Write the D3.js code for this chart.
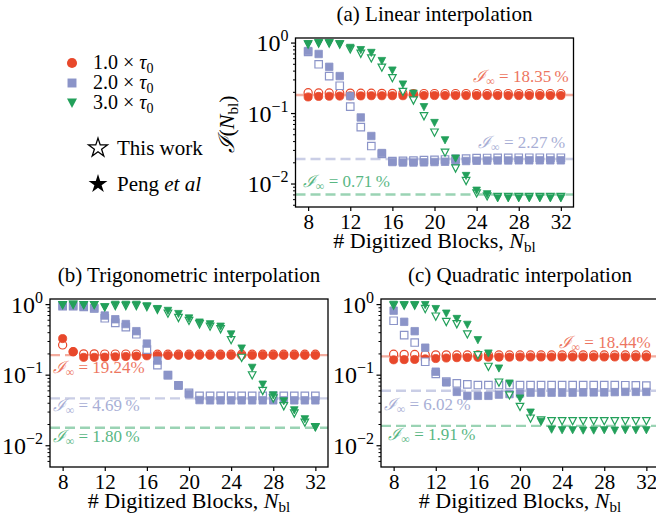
<!DOCTYPE html>
<html>
<head>
<meta charset="utf-8">
<script src="https://cdn.jsdelivr.net/npm/d3@7"></script>
<style>
body { margin: 0; background: #fff; }
</style>
</head>
<body>
<div id="chart"></div>
<script>
// block counts on the x axis
var nBlocks = d3.range(8, 33);
var xTicks = [8, 12, 16, 20, 24, 28, 32];
var yTicks = [1, 0.1, 0.01];
var tauLabels = ["1.0", "2.0", "3.0"];

// (a) linear interpolation: open = this work, filled = Peng et al
var linTau1This = [0.197, 0.196, 0.196, 0.195, 0.195, 0.194, 0.194, 0.193, 0.193, 0.193, 0.192, 0.192, 0.192, 0.192, 0.192, 0.192, 0.192, 0.192, 0.192, 0.192, 0.192, 0.192, 0.192, 0.192, 0.192];
var linTau1Peng = [0.172, 0.175, 0.176, 0.177, 0.178, 0.178, 0.179, 0.179, 0.179, 0.179, 0.18, 0.18, 0.18, 0.18, 0.18, 0.18, 0.18, 0.18, 0.18, 0.18, 0.18, 0.18, 0.18, 0.18, 0.18];
var linTau2This = [0.75, 0.50, 0.34, 0.248, 0.125, 0.064, 0.0346, 0.0267, 0.0212, 0.0213, 0.0215, 0.0218, 0.022, 0.0223, 0.0227, 0.023, 0.0233, 0.0234, 0.0235, 0.0235, 0.0236, 0.0236, 0.0236, 0.0236, 0.0236];
var linTau2Peng = [0.77, 0.70, 0.46, 0.34, 0.177, 0.088, 0.048, 0.0275, 0.0205, 0.0202, 0.0202, 0.0203, 0.0205, 0.0207, 0.021, 0.0212, 0.0214, 0.0215, 0.0216, 0.0216, 0.0217, 0.0217, 0.0217, 0.0217, 0.0217];
var linTau3This = [0.96, 0.99, 0.99, 0.96, 0.82, 0.71, 0.61, 0.45, 0.32, 0.204, 0.154, 0.092, 0.054, 0.028, 0.0167, 0.0111, 0.0074, 0.0067, 0.0066, 0.0066, 0.0066, 0.0066, 0.0066, 0.0066, 0.0066];
var linTau3Peng = [0.97, 1.0, 1.0, 0.97, 0.86, 0.80, 0.73, 0.56, 0.41, 0.26, 0.193, 0.124, 0.074, 0.042, 0.0231, 0.0131, 0.0081, 0.0072, 0.0063, 0.0063, 0.0063, 0.0063, 0.0063, 0.0063, 0.0063];

// (b) trigonometric interpolation
var trigTau1This = [0.268, 0.215, 0.20, 0.20, 0.199, 0.199, 0.199, 0.199, 0.198, 0.198, 0.198, 0.198, 0.198, 0.198, 0.198, 0.198, 0.198, 0.198, 0.198, 0.198, 0.198, 0.198, 0.198, 0.198, 0.198];
var trigTau1Peng = [0.33, 0.215, 0.179, 0.179, 0.18, 0.182, 0.184, 0.186, 0.188, 0.19, 0.19, 0.191, 0.191, 0.191, 0.191, 0.191, 0.191, 0.191, 0.191, 0.191, 0.191, 0.191, 0.191, 0.191, 0.191];
var trigTau2This = [0.95, 0.95, 0.93, 0.88, 0.64, 0.55, 0.48, 0.38, 0.23, 0.139, 0.10, 0.072, 0.056, 0.051, 0.051, 0.051, 0.051, 0.051, 0.051, 0.051, 0.051, 0.051, 0.051, 0.051, 0.051];
var trigTau2Peng = [0.96, 0.96, 0.94, 0.89, 0.70, 0.62, 0.53, 0.42, 0.28, 0.161, 0.10, 0.071, 0.054, 0.0444, 0.044, 0.044, 0.044, 0.044, 0.044, 0.044, 0.044, 0.044, 0.044, 0.044, 0.044];
var trigTau3This = [0.99, 1.0, 0.99, 0.99, 0.92, 0.96, 0.96, 0.96, 0.93, 0.85, 0.75, 0.65, 0.59, 0.53, 0.49, 0.45, 0.315, 0.177, 0.10, 0.060, 0.047, 0.0365, 0.0288, 0.0214, 0.0185];
var trigTau3Peng = [0.99, 1.0, 0.99, 0.99, 0.92, 1.0, 1.0, 1.0, 0.95, 0.87, 0.82, 0.74, 0.64, 0.56, 0.53, 0.49, 0.38, 0.24, 0.128, 0.074, 0.052, 0.043, 0.032, 0.0239, 0.0182];

// (c) quadratic interpolation
var quadTau1This = [0.198, 0.197, 0.196, 0.195, 0.194, 0.194, 0.193, 0.193, 0.193, 0.193, 0.193, 0.193, 0.193, 0.193, 0.193, 0.193, 0.193, 0.193, 0.193, 0.193, 0.193, 0.193, 0.193, 0.193, 0.193];
var quadTau1Peng = [0.165, 0.166, 0.167, 0.17, 0.172, 0.175, 0.177, 0.178, 0.179, 0.18, 0.18, 0.18, 0.181, 0.181, 0.181, 0.181, 0.181, 0.181, 0.181, 0.181, 0.181, 0.181, 0.181, 0.181, 0.181];
var quadTau2This = [0.59, 0.37, 0.29, 0.155, 0.104, 0.081, 0.0766, 0.074, 0.0725, 0.0725, 0.0725, 0.0725, 0.0725, 0.0725, 0.0725, 0.0725, 0.0725, 0.0725, 0.0725, 0.0725, 0.0725, 0.0725, 0.072, 0.0715, 0.071];
var quadTau2Peng = [0.82, 0.57, 0.42, 0.245, 0.112, 0.079, 0.058, 0.051, 0.051, 0.051, 0.053, 0.054, 0.055, 0.0565, 0.0565, 0.0565, 0.0565, 0.0565, 0.057, 0.057, 0.057, 0.0575, 0.058, 0.058, 0.058];
var quadTau3This = [0.97, 0.97, 0.97, 0.87, 0.68, 0.57, 0.53, 0.38, 0.193, 0.132, 0.079, 0.052, 0.0357, 0.0244, 0.023, 0.0224, 0.0224, 0.0224, 0.0224, 0.0224, 0.0224, 0.0224, 0.0224, 0.0224, 0.0224];
var quadTau3Peng = [1.0, 0.99, 0.99, 0.99, 0.87, 0.75, 0.63, 0.52, 0.315, 0.204, 0.125, 0.0766, 0.047, 0.0297, 0.0219, 0.017, 0.0167, 0.0167, 0.0165, 0.0165, 0.0167, 0.0165, 0.0167, 0.0167, 0.0167];

// asymptotic infidelities (percent)
var linInf = [18.35, 2.27, 0.71];
var trigInf = [19.24, 4.69, 1.80];
var quadInf = [18.44, 6.02, 1.91];

var colors = ["#e8482b", "#8b94c8", "#22a05a"];
var serif = "'Liberation Serif'";

var width = 656, height = 523;
var svg = d3.select("#chart").append("svg")
    .attr("width", width)
    .attr("height", height);

// every text gets the serif face explicitly
function txt(parent) {
    return parent.append("text").style("font-family", serif);
}

var triDown = "M-3.8,-3.4L3.8,-3.4L0,3.8Z";
function markerPath(i, size) {
    if (i === 0) return d3.symbol().type(d3.symbolCircle).size(size || 52)();
    if (i === 1) return d3.symbol().type(d3.symbolSquare).size(size || 56)();
    return triDown;
}

var panels = [
    {title: "(a) Linear interpolation", left: 295.5, top: 38, w: 278, h: 169, ydom: [0.00472, 1.18],
     series: [[linTau1This, linTau1Peng], [linTau2This, linTau2Peng], [linTau3This, linTau3Peng]],
     inf: linInf, ylabel: true,
     notes: [{x: 32.75, dy: -13, anchor: "end", pct: "18.35\u2009%"},
             {x: 32.4, dy: -11, anchor: "end", pct: "2.27\u2009%"},
             {x: 7.5, dy: -8, anchor: "start", pct: "0.71\u2009%"}]},
    {title: "(b) Trigonometric interpolation", left: 50, top: 299, w: 278, h: 168, ydom: [0.0050, 1.2],
     series: [[trigTau1This, trigTau1Peng], [trigTau2This, trigTau2Peng], [trigTau3This, trigTau3Peng]],
     inf: trigInf, ylabel: false,
     notes: [{x: 7.05, dy: 18, anchor: "start", pct: "19.24%"},
             {x: 7.05, dy: 13, anchor: "start", pct: "4.69\u2009%"},
             {x: 7.05, dy: 14, anchor: "start", pct: "1.80\u2009%"}]},
    {title: "(c) Quadratic interpolation", left: 381, top: 299, w: 278, h: 168, ydom: [0.0050, 1.2],
     series: [[quadTau1This, quadTau1Peng], [quadTau2This, quadTau2Peng], [quadTau3This, quadTau3Peng]],
     inf: quadInf, ylabel: false,
     notes: [{x: 32.4, dy: -8, anchor: "end", pct: "18.44%"},
             {x: 7.05, dy: 19, anchor: "start", pct: "6.02\u2009%"},
             {x: 7.5, dy: 14, anchor: "start", pct: "1.91\u2009%"}]}
];

panels.forEach(function(p) {
    var g = svg.append("g").attr("transform", "translate(" + p.left + "," + p.top + ")");
    var x = d3.scaleLinear().domain([6.8, 33.2]).range([0, p.w]);
    var y = d3.scaleLog().domain(p.ydom).range([p.h, 0]);

    // dashed asymptote lines
    p.inf.forEach(function(v, i) {
        g.append("line")
            .attr("x1", 0).attr("x2", p.w)
            .attr("y1", y(v / 100)).attr("y2", y(v / 100))
            .attr("stroke", colors[i])
            .attr("stroke-width", 2.4)
            .attr("stroke-dasharray", "10,5")
            .attr("opacity", 0.45);
    });

    // annotations
    p.notes.forEach(function(n, i) {
        var t = txt(g)
            .attr("x", x(n.x))
            .attr("y", y(p.inf[i] / 100) + n.dy)
            .attr("text-anchor", n.anchor)
            .attr("font-size", 17)
            .style("fill", colors[i])
            .attr("opacity", 0.75);
        t.append("tspan").attr("font-style", "italic").text("\u2110");
        t.append("tspan").attr("font-size", 12).attr("dy", 3).text("\u221e");
        t.append("tspan").attr("dy", -3).text(" = " + n.pct);
    });

    // markers
    p.series.forEach(function(pair, i) {
        g.append("g").selectAll("path")
            .data(pair[0]).enter().append("path")
            .attr("d", markerPath(i))
            .attr("transform", function(d, k) { return "translate(" + x(nBlocks[k]) + "," + y(d) + ")"; })
            .attr("fill", "#fff")
            .attr("stroke", colors[i])
            .attr("stroke-width", 1.2);
        g.append("g").selectAll("path")
            .data(pair[1]).enter().append("path")
            .attr("d", markerPath(i))
            .attr("transform", function(d, k) { return "translate(" + x(nBlocks[k]) + "," + y(d) + ")"; })
            .attr("fill", colors[i])
            .attr("stroke", colors[i])
            .attr("stroke-width", 0.8);
    });

    // frame
    g.append("rect").attr("width", p.w).attr("height", p.h)
        .attr("fill", "none").attr("stroke", "#000").attr("stroke-width", 1.3);

    // x axis
    var xa = g.append("g").attr("transform", "translate(0," + p.h + ")")
        .call(d3.axisBottom(x).tickValues(xTicks).tickSize(4).tickPadding(4).tickFormat(d3.format("d")));
    xa.select(".domain").remove();
    xa.selectAll("line").attr("stroke-width", 1.2);
    xa.selectAll("text").style("font-family", serif).attr("font-size", 21).attr("dy", "0.69em");

    // y axis: minor ticks
    var minor = [];
    [0.001, 0.01, 0.1, 1].forEach(function(dec) {
        for (var m = 2; m <= 9; m++) {
            var v = dec * m;
            if (v > p.ydom[0] && v < p.ydom[1]) minor.push(v);
        }
    });
    g.append("g").selectAll("line").data(minor).enter().append("line")
        .attr("x1", -2.5).attr("x2", 0)
        .attr("y1", function(d) { return y(d); }).attr("y2", function(d) { return y(d); })
        .attr("stroke", "#000").attr("stroke-width", 1);
    var ya = g.append("g");
    ya.selectAll("line").data(yTicks).enter().append("line")
        .attr("x1", -4.5).attr("x2", 0)
        .attr("y1", function(d) { return y(d); }).attr("y2", function(d) { return y(d); })
        .attr("stroke", "#000").attr("stroke-width", 1.2);
    ya.selectAll("text").data(yTicks).enter().append("text")
        .style("font-family", serif)
        .attr("x", -7).attr("y", function(d) { return y(d) + 8; })
        .attr("text-anchor", "end")
        .attr("font-size", 24)
        .each(function(d) {
            var t = d3.select(this);
            var e = Math.round(Math.log10(d));
            t.append("tspan").text("10");
            t.append("tspan").attr("font-size", 16).attr("dy", -10).text(e === 0 ? "0" : "\u2212" + (-e));
        });

    // title
    txt(svg)
        .attr("x", p.left + 139).attr("y", p.top - 17)
        .attr("text-anchor", "middle")
        .attr("font-size", 21)
        .text(p.title);

    // x label
    var xl = txt(svg)
        .attr("x", p.left + 139).attr("y", p.top + p.h + 41)
        .attr("text-anchor", "middle")
        .attr("font-size", 22);
    xl.append("tspan").text("# Digitized Blocks, ");
    xl.append("tspan").attr("font-style", "italic").text("N");
    xl.append("tspan").attr("font-size", 15).attr("dy", 4).text("bl");

    if (p.ylabel) {
        var yl = txt(svg)
            .attr("transform", "translate(" + (p.left - 62) + "," + (p.top + 86) + ") rotate(-90)")
            .attr("text-anchor", "middle")
            .attr("font-size", 22);
        yl.append("tspan").attr("font-style", "italic").text("\u2110");
        yl.append("tspan").text("(");
        yl.append("tspan").attr("font-style", "italic").text("N");
        yl.append("tspan").attr("font-size", 15).attr("dy", 4).text("bl");
        yl.append("tspan").attr("dy", -4).text(")");
    }
});

// legend
var leg = svg.append("g");
tauLabels.forEach(function(lab, i) {
    var yy = 63 + i * 20;
    leg.append("path")
        .attr("d", i === 2 ? "M-5,-4.5L5,-4.5L0,5Z" : markerPath(i, 80))
        .attr("transform", "translate(72," + yy + ")")
        .attr("fill", colors[i]);
    var t = txt(leg).attr("x", 93).attr("y", yy + 6).attr("font-size", 20);
    t.append("tspan").text(lab + " \u00d7 ");
    t.append("tspan").attr("font-style", "italic").text("\u03c4");
    t.append("tspan").attr("font-size", 14).attr("dy", 4).text("0");
});
var star = d3.symbol().type(d3.symbolStar).size(110)();
leg.append("path").attr("d", star).attr("transform", "translate(98,148)")
    .attr("fill", "#fff").attr("stroke", "#000").attr("stroke-width", 1.3);
txt(leg).attr("x", 117).attr("y", 155).attr("font-size", 21).text("This work");
leg.append("path").attr("d", star).attr("transform", "translate(98,184)")
    .attr("fill", "#000");
var pt = txt(leg).attr("x", 117).attr("y", 191).attr("font-size", 21);
pt.append("tspan").text("Peng ");
pt.append("tspan").attr("font-style", "italic").text("et al");
</script>
</body>
</html>
